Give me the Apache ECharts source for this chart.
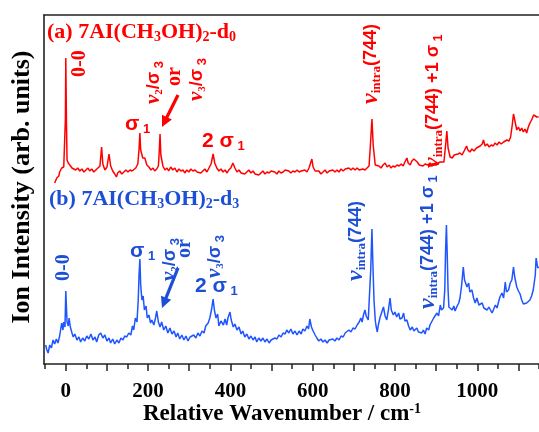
<!DOCTYPE html>
<html><head><meta charset="utf-8">
<script src="https://cdn.jsdelivr.net/npm/echarts@6/dist/echarts.min.js"></script>
<style>html,body{margin:0;padding:0;background:#fff}#c{width:539px;height:432px}</style>
</head><body><div id="c"></div>
<script>
// ---- data (wavenumber cm-1, intensity arb. units) ----
const redSpectrum = [[-27,181],[-22,186],[-17,188],[-15,192],[-10,196],[-7,195],[-5,197],[-3,198],[-1,245],[0,306],[1.5,244],[3,204],[6,201],[10,199],[15,196],[19,198],[24,194],[29,196],[34,193],[39,195],[44,192],[49,194],[54,196],[58,193],[63,195],[68,192],[73,194],[78,196],[83,198],[87,217],[90,200],[95,194],[100,197],[105,210],[109,198],[114,193],[119,190],[123,187],[126,191],[131,193],[136,190],[141,192],[146,194],[151,192],[156,194],[161,193],[165,195],[170,196],[175,200],[178,215],[180,231],[182,214],[187,206],[192,206],[197,199],[202,197],[207,194],[212,196],[216,193],[221,195],[225,198],[227,212],[229,230],[231,209],[236,198],[241,194],[246,196],[250,193],[255,197],[260,194],[265,196],[270,192],[275,195],[280,193],[285,194],[289,191],[294,194],[299,192],[304,195],[309,193],[314,194],[319,192],[323,194],[328,191],[333,193],[338,195],[343,192],[348,196],[353,200],[358,210],[362,201],[367,196],[372,193],[377,195],[382,192],[387,194],[392,191],[396,194],[401,196],[406,201],[411,196],[416,192],[421,194],[426,191],[430,193],[435,190],[440,192],[445,194],[450,191],[455,193],[460,190],[464,192],[469,189],[474,191],[479,193],[484,190],[489,192],[494,191],[499,193],[503,191],[508,192],[513,190],[518,193],[523,191],[528,192],[533,194],[537,192],[542,193],[547,191],[552,193],[557,192],[562,194],[567,192],[572,193],[576,191],[581,194],[586,192],[591,196],[598,205],[601,197],[606,193],[610,191],[615,193],[620,190],[625,192],[630,194],[635,191],[640,193],[644,191],[649,194],[654,192],[659,194],[664,192],[669,195],[674,193],[679,195],[683,193],[688,196],[693,194],[698,196],[703,194],[708,196],[713,194],[717,193],[722,195],[727,194],[732,196],[737,198],[741,224],[744,245],[747,219],[752,199],[756,197],[761,198],[766,196],[771,199],[776,201],[781,197],[786,199],[790,196],[795,198],[800,197],[805,199],[810,198],[815,200],[820,198],[824,202],[829,206],[832,201],[837,199],[841,203],[846,205],[850,207],[854,202],[859,199],[863,201],[868,198],[873,200],[877,201],[880,199],[885,201],[890,198],[895,200],[900,199],[905,201],[910,202],[914,200],[919,202],[923,219],[926,233],[929,216],[934,207],[939,206],[944,209],[948,207],[953,210],[958,211],[963,209],[968,213],[974,218],[977,214],[982,212],[987,215],[992,213],[998,216],[1002,214],[1007,218],[1012,220],[1015,224],[1019,218],[1024,220],[1029,217],[1034,219],[1039,218],[1043,221],[1048,219],[1053,222],[1058,220],[1064,222],[1068,221],[1072,224],[1077,223],[1081,227],[1085,239],[1088,250],[1091,244],[1096,234],[1100,237],[1104,233],[1108,236],[1112,232],[1116,235],[1120,231],[1124,237],[1128,241],[1132,244],[1137,249],[1141,250],[1145,247],[1149,247]];

const blueSpectrum = [[-49,19],[-46,14],[-43,11],[-39,19],[-35,16],[-31,24],[-27,20],[-23,25],[-19,21],[-15,28],[-10,41],[-7,34],[-5,42],[-2,37],[0,73],[3,42],[6,38],[8,46],[11,37],[15,31],[18,27],[22,30],[27,24],[32,27],[36,22],[41,26],[46,23],[51,28],[56,25],[61,30],[66,24],[71,27],[75,22],[80,29],[85,31],[90,26],[95,29],[100,23],[105,26],[109,21],[114,25],[119,20],[124,24],[129,21],[134,26],[139,24],[143,28],[148,27],[153,31],[158,29],[162,38],[165,34],[169,46],[173,42],[176,64],[178,89],[180,105],[182,79],[185,64],[188,68],[191,54],[195,58],[198,46],[202,49],[206,41],[209,44],[214,39],[218,46],[221,53],[225,42],[229,37],[233,42],[238,34],[243,38],[248,31],[253,36],[258,30],[263,33],[268,27],[272,31],[277,25],[282,29],[287,24],[292,28],[297,23],[302,27],[306,25],[311,29],[316,26],[321,31],[326,28],[331,33],[336,31],[340,38],[346,41],[350,46],[354,54],[358,65],[361,54],[365,46],[369,50],[372,38],[377,43],[383,39],[387,45],[391,39],[394,46],[399,52],[402,44],[407,37],[411,40],[416,34],[421,37],[426,30],[430,33],[435,27],[440,30],[445,25],[450,28],[455,24],[460,27],[464,22],[469,26],[474,23],[479,26],[484,22],[489,25],[494,21],[499,24],[503,22],[508,26],[513,25],[518,29],[523,27],[528,31],[533,30],[537,34],[542,31],[547,35],[552,30],[557,33],[562,29],[567,33],[572,30],[576,35],[581,33],[586,38],[590,35],[593,45],[597,37],[601,33],[606,29],[610,26],[615,23],[620,25],[625,22],[630,24],[635,21],[640,24],[644,22],[649,25],[654,23],[659,26],[664,24],[669,28],[674,27],[679,31],[683,29],[688,34],[693,32],[698,36],[703,35],[708,39],[713,42],[717,46],[720,42],[724,50],[727,54],[730,48],[735,44],[738,46],[741,94],[744,135],[746,104],[749,64],[752,44],[754,38],[757,32],[760,40],[764,47],[768,46],[772,57],[776,48],[780,44],[784,54],[788,66],[791,54],[796,49],[800,52],[804,47],[809,51],[812,45],[817,46],[821,51],[824,43],[829,44],[833,38],[837,34],[842,37],[846,33],[853,36],[857,32],[861,34],[865,31],[869,34],[873,30],[877,36],[882,34],[885,39],[889,41],[894,46],[897,44],[902,51],[906,48],[910,59],[913,54],[918,56],[921,74],[923,114],[925,139],[927,109],[929,74],[931,57],[934,55],[939,54],[943,58],[946,53],[951,58],[955,61],[958,66],[962,79],[966,97],[969,84],[975,77],[979,81],[982,72],[987,74],[991,66],[995,61],[999,66],[1004,59],[1007,57],[1012,61],[1016,56],[1019,58],[1024,54],[1028,57],[1032,54],[1036,51],[1039,54],[1044,59],[1048,56],[1051,61],[1055,67],[1060,71],[1064,66],[1068,82],[1071,72],[1076,74],[1080,81],[1084,84],[1088,97],[1091,87],[1096,77],[1100,73],[1104,70],[1108,64],[1112,60],[1116,58],[1120,61],[1124,63],[1128,64],[1132,68],[1136,74],[1141,89],[1143,106],[1147,96],[1150,97]];

const tickLabelValues = [0, 200, 400, 600, 800, 1000];
const majorTickValues = [0, 100, 200, 300, 400, 500, 600, 700, 800, 900, 1000, 1100];
const minorTickValues = [-50, 50, 150, 250, 350, 450, 550, 650, 750, 850, 950, 1050, 1150];
const xRange = [-53, 1150];
const yRange = [0, 349];

// ---- styles ----
const SERIF = '"Liberation Serif","Times New Roman",serif';
const SANS = '"Liberation Sans",Arial,sans-serif';
const RED = '#ff0000', RED_LINE = '#ff0000';
const BLUE = '#1d4fd6', BLUE_LINE = '#1f55ff';
const AX = '#222';

function rich(c) {
  return {
    t:   {fill:c, fontFamily:SERIF, fontWeight:'bold', fontSize:22},
    ts:  {fill:c, fontFamily:SERIF, fontWeight:'bold', fontSize:14, padding:[11,0,0,0]},
    z:   {fill:c, fontFamily:SERIF, fontWeight:'bold', fontSize:20},
    nu:  {fill:c, fontFamily:SERIF, fontWeight:'bold', fontStyle:'italic', fontSize:21},
    nuL: {fill:c, fontFamily:SERIF, fontWeight:'bold', fontStyle:'italic', fontSize:24},
    sub: {fill:c, fontFamily:SERIF, fontWeight:'bold', fontSize:11, padding:[10,0,0,0]},
    sub2:{fill:c, fontFamily:SERIF, fontWeight:'bold', fontSize:13, padding:[11,0,0,0]},
    s:   {fill:c, fontFamily:SANS, fontWeight:'bold', fontSize:18},
    sb:  {fill:c, fontFamily:SANS, fontWeight:'bold', fontSize:21},
    ssub:{fill:c, fontFamily:SANS, fontWeight:'bold', fontSize:13, padding:[10,0,0,0]}
  };
}
const R90 = Math.PI / 2;
function txt(x, y, text, c, rot, align) {
  return {type:'text', x:x, y:y, rotation: rot ? R90 : 0, silent:true,
    style:{text:text, rich:rich(c), fill:c, align: align || 'left', verticalAlign:'middle'}};
}
function arrow(x1, y1, x2, y2, c) {
  const dx = x2 - x1, dy = y2 - y1, L = Math.hypot(dx, dy);
  const ux = dx / L, uy = dy / L, nx = -uy, ny = ux;
  const hl = 11, hw = 5.5;
  const bx = x2 - ux * hl, by = y2 - uy * hl;
  return [
    {type:'line', silent:true, shape:{x1:x1, y1:y1, x2:bx + ux*1, y2:by + uy*1}, style:{stroke:c, lineWidth:3.2}},
    {type:'polygon', silent:true, shape:{points:[[x2,y2],[bx+nx*hw,by+ny*hw],[bx-nx*hw,by-ny*hw]]}, style:{fill:c}}
  ];
}

const graphics = [
  // titles
  txt(47, 32, '{t|(a) 7AI(CH}{ts|3}{t|OH)}{ts|2}{t|-d}{ts|0}', RED, false),
  txt(49, 199, '{t|(b) 7AI(CH}{ts|3}{t|OH)}{ts|2}{t|-d}{ts|3}', BLUE, false),
  // red labels
  txt(80, 77, '{z|0-0}', RED, true),
  txt(125, 124, '{sb|σ}{ssub| 1}', RED, false),
  txt(154, 104, '{nu|ν}{sub|2}{s|/σ}{ssub| 3}', RED, true),
  txt(175, 86, '{z|or}', RED, true),
  txt(197, 101, '{nu|ν}{sub|3}{s|/σ}{ssub| 3}', RED, true),
  txt(202, 141, '{sb|2 σ}{ssub| 1}', RED, false),
  txt(371, 104, '{nuL|ν}{sub2|intra}{s|(744)}', RED, true),
  txt(433, 168, '{nuL|ν}{sub2|intra}{s|(744) +1 σ}{ssub| 1}', RED, true),
  // blue labels
  txt(64, 281, '{z|0-0}', BLUE, true),
  txt(130, 251, '{sb|σ}{ssub| 1}', BLUE, false),
  txt(170, 281, '{nu|ν}{sub|2}{s|/σ}{ssub| 3}', BLUE, true),
  txt(185, 258, '{z|or}', BLUE, true),
  txt(215, 278, '{nu|ν}{sub|3}{s|/σ}{ssub| 3}', BLUE, true),
  txt(195, 286, '{sb|2 σ}{ssub| 1}', BLUE, false),
  txt(356, 281, '{nuL|ν}{sub2|intra}{s|(744)}', BLUE, true),
  txt(428, 309, '{nuL|ν}{sub2|intra}{s|(744) +1 σ}{ssub| 1}', BLUE, true),
  // axis titles
  {type:'text', x:22, y:187, rotation:R90, silent:true,
   style:{text:'Ion Intensity (arb. units)', fill:'#000', font:'bold 26px ' + SERIF, align:'center', verticalAlign:'middle'}},
  {type:'text', x:282, y:414, silent:true,
   style:{text:'{a|Relative Wavenumber / cm}{b|-1}', align:'center', verticalAlign:'middle',
     rich:{a:{fill:'#000', fontFamily:SERIF, fontWeight:'bold', fontSize:23},
           b:{fill:'#000', fontFamily:SERIF, fontWeight:'bold', fontSize:14, padding:[0,0,10,0]}}}}
].concat(arrow(178, 95, 162, 127, RED), arrow(178, 268, 162, 308, BLUE));

const chart = echarts.init(document.getElementById('c'), null, {renderer:'canvas'});
const xBase = {type:'value', min:xRange[0], max:xRange[1], splitLine:{show:false}};
chart.setOption({
  animation:false,
  backgroundColor:'#fff',
  grid:{left:44, top:15, right:0, bottom:68, containLabel:false},
  xAxis:[
    Object.assign({}, xBase, {position:'bottom',
      axisLine:{show:true, onZero:false, lineStyle:{color:AX, width:1.6}},
      axisTick:{show:true, customValues:majorTickValues, length:7, lineStyle:{color:AX, width:1.5}},
      axisLabel:{show:true, customValues:tickLabelValues, margin:17, color:'#000',
        formatter:function(v){ return String(v); },
        fontFamily:SERIF, fontWeight:'bold', fontSize:21}}),
    Object.assign({}, xBase, {position:'bottom',
      axisLine:{show:false, onZero:false},
      axisTick:{show:true, customValues:minorTickValues, length:5, lineStyle:{color:AX, width:1.5}},
      axisLabel:{show:false}}),
    Object.assign({}, xBase, {position:'top',
      axisLine:{show:true, onZero:false, lineStyle:{color:AX, width:1.6}},
      axisTick:{show:false}, axisLabel:{show:false}})
  ],
  yAxis:{type:'value', min:yRange[0], max:yRange[1], splitLine:{show:false},
    axisLine:{show:true, onZero:false, lineStyle:{color:AX, width:1.6}}, axisTick:{show:false}, axisLabel:{show:false}},
  series:[
    {type:'line', name:'d0', data:redSpectrum, xAxisIndex:0, showSymbol:false, silent:true,
     lineStyle:{color:RED_LINE, width:1.5}, z:3},
    {type:'line', name:'d3', data:blueSpectrum, xAxisIndex:0, showSymbol:false, silent:true,
     lineStyle:{color:BLUE_LINE, width:1.5}, z:3}
  ],
  graphic:graphics
});
</script></body></html>
